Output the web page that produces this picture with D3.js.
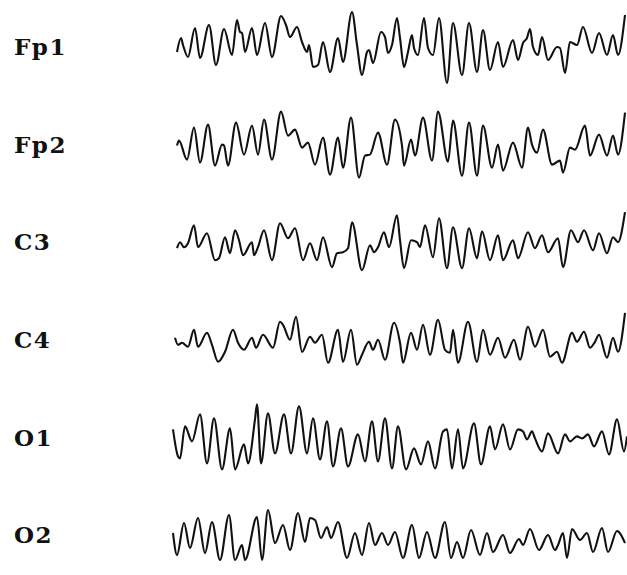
<!DOCTYPE html>
<html>
<head>
<meta charset="utf-8">
<script src="https://cdn.jsdelivr.net/npm/d3@7"></script>
<style>
  html, body { margin: 0; padding: 0; background: #fff; }
  svg { display: block; }
</style>
</head>
<body>
<svg id="eeg" width="627" height="575"></svg>
<script>
// Six-channel EEG excerpt. Each trace: [sample index, amplitude in µV]
const channels = ["Fp1", "Fp2", "C3", "C4", "O1", "O2"];

const fp1 = [[5,-5],[9,9],[11,2],[16,-10],[23,19],[28,-11],[37,22],[44,-18],[52,18],[60,-8],[65,27],[68,15],[70,14],[73,-5],[80,19],[85,-8],[93,24],[100,-10],[109,31],[114,22],[118,10],[125,20],[130,5],[135,-5],[137,2],[141,-20],[146,-18],[151,5],[158,-25],[166,9],[171,-15],[180,35],[185,2],[190,-28],[195,-5],[197,-3],[201,-16],[209,15],[213,10],[216,-6],[220,2],[225,29],[228,9],[232,-20],[236,-5],[240,12],[242,-1],[246,-8],[252,29],[256,-1],[261,-8],[267,29],[275,-36],[281,24],[290,-28],[297,24],[305,-25],[311,17],[318,-23],[326,5],[331,-20],[341,7],[346,-13],[351,4],[355,9],[358,18],[361,0],[366,-8],[370,10],[376,-13],[385,0],[388,-1],[393,-26],[398,5],[405,2],[411,20],[420,-6],[427,14],[435,-8],[441,12],[446,-8],[453,32]];

const fp2 = [[5,-1],[7,4],[15,-15],[22,17],[28,-18],[36,20],[43,-21],[50,0],[52,-1],[56,-21],[64,22],[72,-10],[80,19],[86,-10],[92,25],[100,-15],[109,33],[116,9],[123,15],[130,-3],[136,2],[143,-20],[151,7],[158,-30],[166,7],[171,-23],[179,27],[187,-33],[193,-11],[198,-10],[206,12],[215,-20],[223,25],[230,-1],[232,-21],[239,5],[243,-11],[251,27],[260,-16],[266,33],[276,-17],[281,24],[290,-31],[297,22],[305,-31],[311,19],[320,-23],[326,0],[331,-26],[341,2],[350,-23],[356,17],[360,0],[365,-8],[371,15],[380,-20],[388,-16],[391,-28],[398,-3],[403,-5],[413,19],[418,-11],[427,10],[435,-11],[441,9],[446,-10],[453,32]];

const c3 = [[5,-6],[8,0],[12,-5],[16,-1],[22,17],[26,-5],[35,9],[43,-18],[47,-16],[53,5],[58,-11],[63,12],[67,2],[71,-13],[80,0],[82,-13],[86,-5],[92,12],[100,-18],[108,19],[116,4],[123,14],[131,-18],[138,-1],[145,-18],[151,5],[160,-25],[165,-11],[171,-10],[176,-6],[180,20],[190,-28],[198,-3],[202,-10],[206,-5],[212,10],[217,-5],[225,27],[228,2],[232,-26],[239,2],[245,0],[248,-5],[253,17],[261,-15],[267,24],[275,-26],[281,15],[290,-26],[297,14],[305,-16],[310,11],[318,-18],[326,7],[331,-18],[341,2],[346,-16],[356,10],[363,-6],[370,7],[376,-10],[386,4],[391,-25],[399,12],[406,0],[412,12],[421,-8],[427,9],[435,-11],[441,5],[446,0],[453,30]];

const c4 = [[3,2],[6,-5],[10,-3],[16,-7],[22,10],[26,-7],[35,7],[40,-5],[46,-22],[53,-12],[61,10],[66,-3],[72,-10],[80,2],[84,-8],[91,5],[101,-8],[108,18],[111,15],[118,0],[124,23],[130,-12],[138,3],[143,-3],[150,5],[156,-23],[166,10],[171,-22],[179,10],[185,-25],[190,-15],[197,-2],[201,-10],[206,0],[213,-20],[222,17],[228,-3],[231,-23],[239,7],[245,-10],[251,15],[258,-15],[266,20],[273,-10],[278,-13],[281,10],[286,-23],[296,18],[305,-22],[311,10],[318,-15],[326,2],[333,-18],[342,0],[348,-20],[356,13],[363,-7],[371,10],[378,-17],[385,-12],[390,-23],[400,7],[405,-2],[412,8],[418,-8],[423,-2],[427,5],[435,-18],[441,2],[446,-12],[453,27]];

const o1 = [[1,8],[6,-19],[8,-21],[13,11],[20,-4],[28,23],[35,-26],[42,19],[50,-32],[58,9],[63,-32],[72,-7],[76,-26],[83,18],[85,33],[89,-26],[96,24],[103,-16],[112,23],[119,-16],[127,31],[135,-16],[141,19],[148,-22],[155,16],[161,-29],[169,9],[176,-29],[186,3],[193,-24],[200,16],[206,-24],[213,19],[220,-31],[226,11],[234,-32],[242,-11],[249,-27],[256,-4],[263,-31],[271,6],[275,8],[280,-31],[286,8],[291,-31],[302,14],[309,-27],[318,11],[323,-12],[331,13],[338,-12],[346,8],[351,6],[355,-2],[360,6],[363,-1],[370,-14],[376,4],[386,-16],[393,3],[398,-4],[405,1],[410,-1],[416,3],[422,-9],[430,6],[437,-17],[445,18],[452,-14],[455,1]];

const o2 = [[1,2],[5,-20],[12,12],[18,-13],[26,17],[33,-18],[40,13],[48,-25],[57,20],[63,-25],[70,-10],[73,-25],[85,18],[90,-25],[96,25],[103,-8],[111,10],[118,-15],[126,22],[133,-7],[138,17],[143,15],[149,-3],[155,8],[159,-3],[166,13],[175,-23],[183,2],[190,-20],[197,12],[203,-10],[210,2],[216,-10],[223,3],[231,-23],[240,10],[247,-23],[255,3],[263,-23],[273,13],[279,-23],[285,-7],[291,-23],[299,5],[308,-20],[315,2],[321,-17],[331,0],[338,-18],[347,-4],[351,-10],[358,6],[367,-15],[376,0],[383,-15],[386,-10],[391,2],[395,-23],[400,6],[408,-5],[415,2],[421,-17],[430,7],[436,-17],[445,4],[453,-8]];

const traces = [fp1, fp2, c3, c4, o1, o2];

const svg = d3.select("#eeg");

// Channel rows, top to bottom
const row = d3.scalePoint().domain(channels).range([47, 535]);

// Shared time axis (samples) and amplitude scale (µV → px offset)
const x = d3.scaleLinear().domain([0, 455]).range([172, 627]);
const amp = d3.scaleLinear().domain([-40, 40]).range([40, -40]);

const line = d3.line()
  .x(d => x(d[0]))
  .y(d => amp(d[1]))
  .curve(d3.curveMonotoneX);

const g = svg.selectAll("g.channel")
  .data(channels.map((name, i) => ({ name, values: traces[i] })))
  .join("g")
  .attr("class", "channel")
  .attr("transform", d => `translate(0,${row(d.name)})`);

g.append("path")
  .attr("d", d => line(d.values))
  .attr("fill", "none")
  .attr("stroke", "#111")
  .attr("stroke-width", 2.1)
  .attr("stroke-linejoin", "round");

g.append("text")
  .attr("x", 14)
  .attr("dy", "0.36em")
  .attr("font-family", "'DejaVu Serif', 'Liberation Serif', serif")
  .attr("font-size", 23)
  .attr("font-weight", "bold")
  .attr("letter-spacing", 1.5)
  .attr("fill", "#111")
  .text(d => d.name);
</script>
</body>
</html>
